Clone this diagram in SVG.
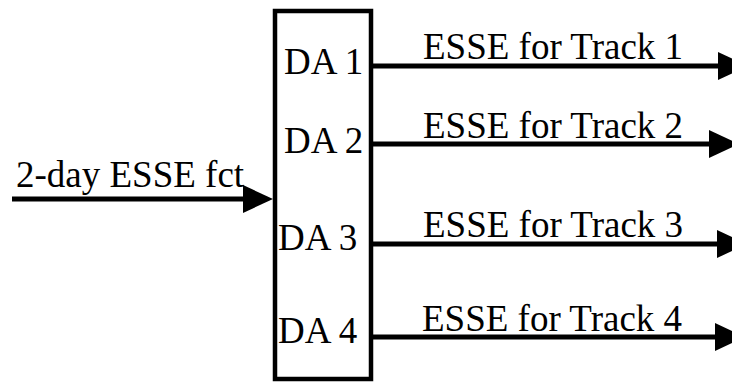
<svg xmlns="http://www.w3.org/2000/svg" width="732" height="382" viewBox="0 0 732 382">
<style>
text{font-family:"Liberation Serif","Times New Roman",serif;font-size:37px;fill:#000}
.ln{stroke:#000;stroke-width:5;fill:none}
.hd{fill:#000}
</style>
<rect width="732" height="382" fill="#fff"/>
<g id="box">
<rect x="275" y="11" width="96" height="368" fill="none" stroke="#000" stroke-width="4.5"/>
<text x="284" y="74">DA 1</text>
<text x="284" y="153">DA 2</text>
<text x="278" y="250">DA 3</text>
<text x="278" y="343">DA 4</text>
</g>
<g id="connectors">
<line class="ln" x1="12" y1="199" x2="245" y2="199"/>
<polygon class="hd" points="243,185 273,199 243,213"/>
<line class="ln" x1="371" y1="66" x2="720" y2="66"/>
<polygon class="hd" points="718,52 748,66 718,80"/>
<line class="ln" x1="371" y1="144" x2="711" y2="144"/>
<polygon class="hd" points="709,130 739,144 709,158"/>
<line class="ln" x1="371" y1="244" x2="719" y2="244"/>
<polygon class="hd" points="717,230 747,244 717,258"/>
<line class="ln" x1="371" y1="337" x2="717" y2="337"/>
<polygon class="hd" points="715,323 745,337 715,351"/>
</g>
<g id="labels">
<text x="16" y="187">2-day ESSE fct</text>
<text x="423" y="59">ESSE for Track 1</text>
<text x="423" y="138">ESSE for Track 2</text>
<text x="423" y="237">ESSE for Track 3</text>
<text x="422" y="331">ESSE for Track 4</text>
</g>
</svg>
